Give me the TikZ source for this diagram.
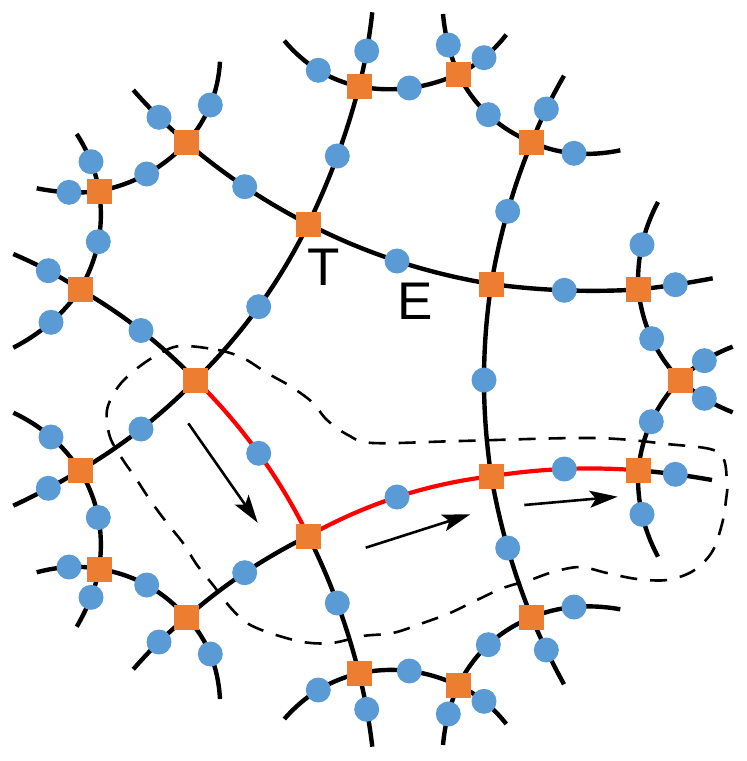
\documentclass[tikz,border=0pt]{standalone}
\usepackage{fontspec}
\setmainfont{Liberation Sans}
\usetikzlibrary{calc,arrows.meta}
\definecolor{sqorange}{HTML}{ED7D31}
\definecolor{dotblue}{HTML}{5B9BD5}
\definecolor{pathred}{HTML}{FF0000}
\pgfdeclarelayer{edgelayer}
\pgfsetlayers{edgelayer,main}
\tikzset{
  vsq/.style={rectangle, fill=sqorange, minimum size=25pt, inner sep=0pt},
  mdot/.style={circle, fill=dotblue, minimum size=25pt, inner sep=0pt},
  link/.style={draw=black, line width=4.4pt},
  redlink/.style={draw=pathred, line width=4.2pt},
  flow/.style={draw=black, line width=2.6pt, -{Stealth[length=28pt,width=17pt,inset=6pt]}},
  outline/.style={draw=black, line width=2.6pt, dash pattern=on 17pt off 13pt},
  lbl/.style={font=\fontsize{53}{53}\selectfont, inner sep=0pt}
}
\newcommand\curvedlink[4][link]{%
  \draw[#1] (#2.center) .. controls ($(#3.center)!-0.33333!(#4.center)$) and ($(#3.center)!-0.33333!(#2.center)$) .. (#4.center);}
\begin{document}
\begin{tikzpicture}[x=1pt,y=-1pt]
\useasboundingbox (0,0) rectangle (747,761);
% squares
\node[vsq] (s1) at (186.7,142.7) {};
\node[vsq] (s2) at (99,191) {};
\node[vsq] (s3) at (80,289.5) {};
\node[vsq] (s4) at (308.3,224) {};
\node[vsq] (s5) at (359,86.5) {};
\node[vsq] (s6) at (458.3,74) {};
\node[vsq] (s7) at (531.7,142.3) {};
\node[vsq] (s8) at (491.3,284) {};
\node[vsq] (s9) at (638.3,289.5) {};
\node[vsq] (s10) at (680,380) {};
\node[vsq] (s11) at (195.7,380) {};
\node[vsq] (s12) at (80,470.5) {};
\node[vsq] (s13) at (99,569) {};
\node[vsq] (s14) at (186.7,617.3) {};
\node[vsq] (s15) at (308.3,536) {};
\node[vsq] (s16) at (491.3,476.3) {};
\node[vsq] (s17) at (638.3,470.3) {};
\node[vsq] (s18) at (531.7,617.3) {};
\node[vsq] (s19) at (359,673.3) {};
\node[vsq] (s20) at (458.3,685.5) {};
% midpoints of inner links
\node[mdot] (m1) at (258.7,306.7) {};
\node[mdot] (m2) at (337.3,156) {};
\node[mdot] (m3) at (397,261) {};
\node[mdot] (m4) at (244.7,186.7) {};
\node[mdot] (m5) at (146.7,174) {};
\node[mdot] (m6) at (98.3,241.7) {};
\node[mdot] (m7) at (141,330.5) {};
\node[mdot] (m8) at (409.3,88) {};
\node[mdot] (m9) at (488.3,114.7) {};
\node[mdot] (m10) at (507.7,211.3) {};
\node[mdot] (m11) at (564.3,290.3) {};
\node[mdot] (m12) at (484,380) {};
\node[mdot] (m13) at (651.7,338.7) {};
\node[mdot] (m14) at (651.3,421.7) {};
\node[mdot] (m15) at (141,429) {};
\node[mdot] (m16) at (258.7,453.3) {};
\node[mdot] (m17) at (397,497) {};
\node[mdot] (m18) at (564.3,469) {};
\node[mdot] (m19) at (507.7,548) {};
\node[mdot] (m20) at (488.3,644.7) {};
\node[mdot] (m21) at (409.3,671) {};
\node[mdot] (m22) at (337.3,603) {};
\node[mdot] (m23) at (244.7,572.7) {};
\node[mdot] (m24) at (146.7,585) {};
\node[mdot] (m25) at (98.3,517.5) {};
% dangling links: dots and free ends
\node[mdot] (d1a) at (210.3,105) {};   \coordinate (x1a) at (220,61.7);
\node[mdot] (d1b) at (159,117.3) {};   \coordinate (x1b) at (133.3,90);
\node[mdot] (d2a) at (91,161.7) {};    \coordinate (x2a) at (76.7,134);
\node[mdot] (d2b) at (69,192.3) {};    \coordinate (x2b) at (36.7,188.3);
\node[mdot] (d3a) at (48.3,270.7) {};  \coordinate (x3a) at (13.3,254);
\node[mdot] (d3b) at (51,322.3) {};    \coordinate (x3b) at (13.3,347.7);
\node[mdot] (d5a) at (366.7,51) {};    \coordinate (x5a) at (372.3,12.3);
\node[mdot] (d5b) at (318.3,70.3) {};  \coordinate (x5b) at (284.3,40.7);
\node[mdot] (d6a) at (448.3,45) {};    \coordinate (x6a) at (443,14);
\node[mdot] (d6b) at (484,57.7) {};    \coordinate (x6b) at (506.3,34.7);
\node[mdot] (d7a) at (546.3,109) {};   \coordinate (x7a) at (564,75.7);
\node[mdot] (d7b) at (574,153.3) {};   \coordinate (x7b) at (620.3,150.3);
\node[mdot] (d9a) at (642,244.7) {};   \coordinate (x9a) at (658,202);
\node[mdot] (d9b) at (675.3,284.7) {}; \coordinate (x9b) at (712.7,278.3);
\node[mdot] (d10a) at (704.3,360.7) {};\coordinate (x10a) at (732.7,346.7);
\node[mdot] (d10b) at (704.3,398.3) {};\coordinate (x10b) at (732.7,412.3);
\node[mdot] (d17a) at (675.3,474.3) {};\coordinate (x17a) at (712,480);
\node[mdot] (d17b) at (642,514.3) {};  \coordinate (x17b) at (658,556.7);
\node[mdot] (d18a) at (574,607) {};    \coordinate (x18a) at (620.3,609.3);
\node[mdot] (d18b) at (546.3,650) {};  \coordinate (x18b) at (564,684.3);
\node[mdot] (d20a) at (448.3,714) {};  \coordinate (x20a) at (443,745);
\node[mdot] (d20b) at (484,701.3) {};  \coordinate (x20b) at (506.3,724);
\node[mdot] (d19a) at (366.7,709.3) {};\coordinate (x19a) at (372.3,746.7);
\node[mdot] (d19b) at (318.3,690) {};  \coordinate (x19b) at (284.3,719);
\node[mdot] (d14a) at (159,642) {};    \coordinate (x14a) at (133.3,669.3);
\node[mdot] (d14b) at (210.3,654) {};  \coordinate (x14b) at (220,699);
\node[mdot] (d13a) at (69,567) {};     \coordinate (x13a) at (36.7,572.3);
\node[mdot] (d13b) at (91,597.3) {};   \coordinate (x13b) at (76.7,626.7);
\node[mdot] (d12a) at (51,437) {};     \coordinate (x12a) at (13.3,412.7);
\node[mdot] (d12b) at (48.3,488.3) {}; \coordinate (x12b) at (13.3,505.7);
% labels
\node[lbl] (lT) at (324,267) {T};
\node[lbl] (lE) at (415,301) {E};
% arrow ends
\coordinate (a1s) at (188.3,423.3); \coordinate (a1e) at (257.7,522.7);
\coordinate (a2s) at (365.7,547.7); \coordinate (a2e) at (470.3,514.3);
\coordinate (a3s) at (524.3,505);   \coordinate (a3e) at (617.7,496.7);
\draw[flow] (a1s) -- (a1e);
\draw[flow] (a2s) -- (a2e);
\draw[flow] (a3s) -- (a3e);
\begin{pgfonlayer}{edgelayer}
\curvedlink{s11}{m1}{s4}
\curvedlink{s4}{m2}{s5}
\curvedlink{s4}{m3}{s8}
\curvedlink{s4}{m4}{s1}
\curvedlink{s1}{m5}{s2}
\curvedlink{s2}{m6}{s3}
\curvedlink{s3}{m7}{s11}
\curvedlink{s5}{m8}{s6}
\curvedlink{s6}{m9}{s7}
\curvedlink{s7}{m10}{s8}
\curvedlink{s8}{m11}{s9}
\curvedlink{s8}{m12}{s16}
\curvedlink{s9}{m13}{s10}
\curvedlink{s10}{m14}{s17}
\curvedlink{s11}{m15}{s12}
\curvedlink[redlink]{s11}{m16}{s15}
\curvedlink[redlink]{s15}{m17}{s16}
\curvedlink[redlink]{s16}{m18}{s17}
\curvedlink{s16}{m19}{s18}
\curvedlink{s18}{m20}{s20}
\curvedlink{s20}{m21}{s19}
\curvedlink{s19}{m22}{s15}
\curvedlink{s15}{m23}{s14}
\curvedlink{s14}{m24}{s13}
\curvedlink{s13}{m25}{s12}
\curvedlink{s1}{d1a}{x1a}
\curvedlink{s1}{d1b}{x1b}
\curvedlink{s2}{d2a}{x2a}
\curvedlink{s2}{d2b}{x2b}
\curvedlink{s3}{d3a}{x3a}
\curvedlink{s3}{d3b}{x3b}
\curvedlink{s5}{d5a}{x5a}
\curvedlink{s5}{d5b}{x5b}
\curvedlink{s6}{d6a}{x6a}
\curvedlink{s6}{d6b}{x6b}
\curvedlink{s7}{d7a}{x7a}
\curvedlink{s7}{d7b}{x7b}
\curvedlink{s9}{d9a}{x9a}
\curvedlink{s9}{d9b}{x9b}
\curvedlink{s10}{d10a}{x10a}
\curvedlink{s10}{d10b}{x10b}
\curvedlink{s17}{d17a}{x17a}
\curvedlink{s17}{d17b}{x17b}
\curvedlink{s18}{d18a}{x18a}
\curvedlink{s18}{d18b}{x18b}
\curvedlink{s20}{d20a}{x20a}
\curvedlink{s20}{d20b}{x20b}
\curvedlink{s19}{d19a}{x19a}
\curvedlink{s19}{d19b}{x19b}
\curvedlink{s14}{d14a}{x14a}
\curvedlink{s14}{d14b}{x14b}
\curvedlink{s13}{d13a}{x13a}
\curvedlink{s13}{d13b}{x13b}
\curvedlink{s12}{d12a}{x12a}
\curvedlink{s12}{d12b}{x12b}
\draw[outline] plot[smooth cycle, tension=0.55] coordinates {
 (180,346) (218,350) (243,358) (267,373) (290,386) (312,402) (327,420) (348,435)
 (373,443) (460,441) (593,438) (667,444) (718,452) (727,480) (726,500) (722,524)
 (712,552) (693,571) (667,580) (637,579) (607,573) (580,567) (553,572) (530,580)
 (503,588) (477,600) (450,613) (423,623) (393,633) (363,636) (332,643) (303,642)
 (270,633) (247,623) (230,607) (213,585) (197,565) (183,543) (167,523) (150,500)
 (135,477) (123,460) (110,437) (107,410) (118,387) (135,370) (157,355)};
\end{pgfonlayer}
\end{tikzpicture}
\end{document}
